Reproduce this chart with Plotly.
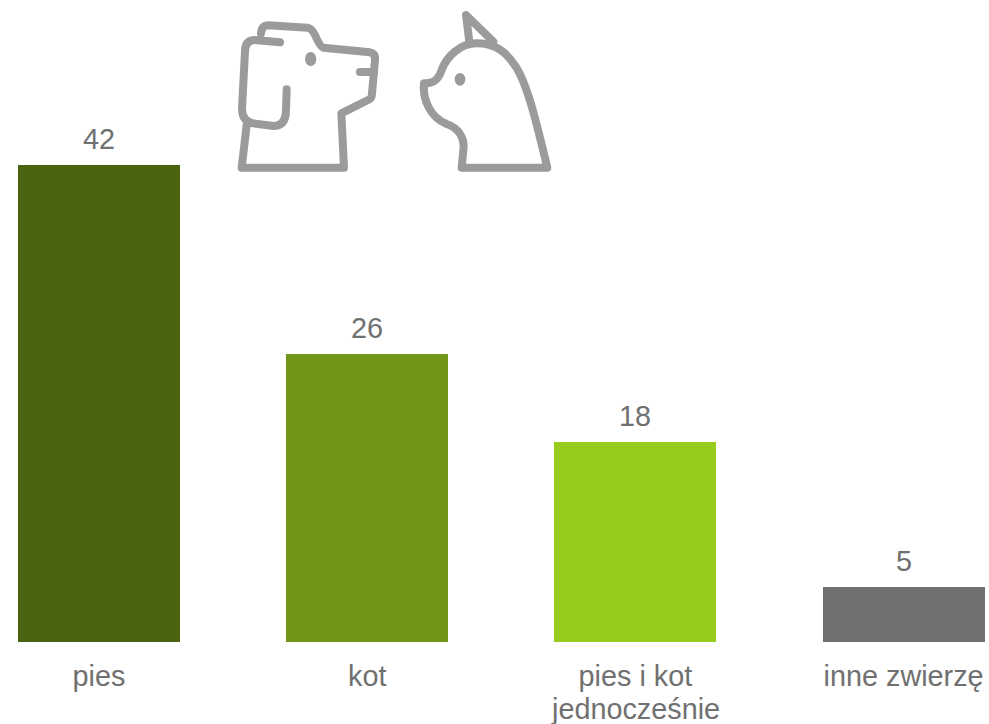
import re
import plotly.graph_objects as go

categories = ["pies", "kot", "pies i kot", "inne zwierzę"]
second_line = {"pies i kot": "jednocześnie"}
values = [42.6, 25.7, 17.9, 4.9]
value_labels = ["42", "26", "18", "5"]
bar_colors = ["#4b640f", "#709718", "#97cb1e", "#707070"]

W, H = 989, 724
BASE = 642
STEP = 268.2
FONT = 28.8
TEXT = "#707070"
ICON = "#9b9b9b"

# icon outlines, in zoomed crop coordinates (crop origin 220,0; scale 3)
DOG = ("M65 503 L372 503 L364 340 L450 297 Q456 292 456 280 L465 180 Q467 160 450 157 L310 143 "
       "Q300 140 285 105 Q275 85 262 83 L145 76 Q125 76 123 100 "
       "M80 375 L65 503 "
       "M180 127 L105 120 Q75 120 75 155 L66 325 Q66 365 100 370 L160 378 Q198 378 198 330 L200 268")
NOSE = "M420 216 L462 216"
CAT = ("M982 503 C950 370 920 240 880 190 C860 160 830 130 770 130 C720 130 680 170 665 210 "
       "C655 240 640 250 612 250 C608 290 625 350 680 372 C720 385 735 420 730 450 L725 503 Z "
       "M748 125 L738 45 L820 125")
EYES = [(272, 177, 17, 21), (720, 238, 16, 19)]


def px(x):
    return (220 + x / 3) / W


def py(y):
    return (BASE - y / 3) / BASE


def to_paper(path):
    out, is_x = [], True
    for tok in re.findall(r"[A-Za-z]|-?\d+\.?\d*", path):
        if tok.isalpha():
            out.append(tok)
            is_x = True
        else:
            out.append(f"{px(float(tok)) if is_x else py(float(tok)):.5f}")
            is_x = not is_x
    return " ".join(out)


shapes = [
    dict(type="path", xref="paper", yref="paper", path=to_paper(DOG),
         line=dict(color=ICON, width=8)),
    dict(type="path", xref="paper", yref="paper", path=to_paper(CAT),
         line=dict(color=ICON, width=8)),
    dict(type="path", xref="paper", yref="paper", path=to_paper(NOSE),
         line=dict(color=ICON, width=8)),
]
for cx, cy, rx, ry in EYES:
    shapes.append(dict(type="circle", xref="paper", yref="paper",
                       x0=px(cx - rx), x1=px(cx + rx), y0=py(cy + ry), y1=py(cy - ry),
                       fillcolor=ICON, line=dict(width=0)))

font = dict(family="Liberation Sans", size=FONT, color=TEXT)
annotations = [
    dict(x=c, y=v, text=t, showarrow=False, yanchor="bottom", yshift=8, font=font)
    for c, v, t in zip(categories, values, value_labels)
]
annotations += [
    dict(x=c, y=0, xref="x", yref="paper", text=t, showarrow=False, yanchor="top",
         yshift=-49, font=font)
    for c, t in second_line.items()
]

fig = go.Figure(go.Bar(
    x=categories, y=values,
    marker=dict(color=bar_colors, line=dict(width=0)),
    width=162 / STEP,
    cliponaxis=False,
))
fig.update_layout(
    width=W, height=H, margin=dict(l=0, r=0, t=0, b=H - BASE, autoexpand=False),
    paper_bgcolor="white", plot_bgcolor="white", showlegend=False,
    shapes=shapes, annotations=annotations, bargap=0,
)
fig.update_xaxes(type="category", range=[-99 / STEP, (W - 99) / STEP], showgrid=False,
                 showline=False, zeroline=False, ticks="", ticklabelstandoff=14,
                 automargin=False, tickfont=font, tickangle=0)
fig.update_yaxes(range=[0, BASE / 11.2], visible=False)
fig.write_html("out.html", config=dict(displayModeBar=False), post_script=(
    "document.body.style.margin='0';"
    "document.querySelectorAll('.shapelayer path').forEach(function(p){"
    "p.style.strokeLinecap='round';p.style.strokeLinejoin='round';});"
))
